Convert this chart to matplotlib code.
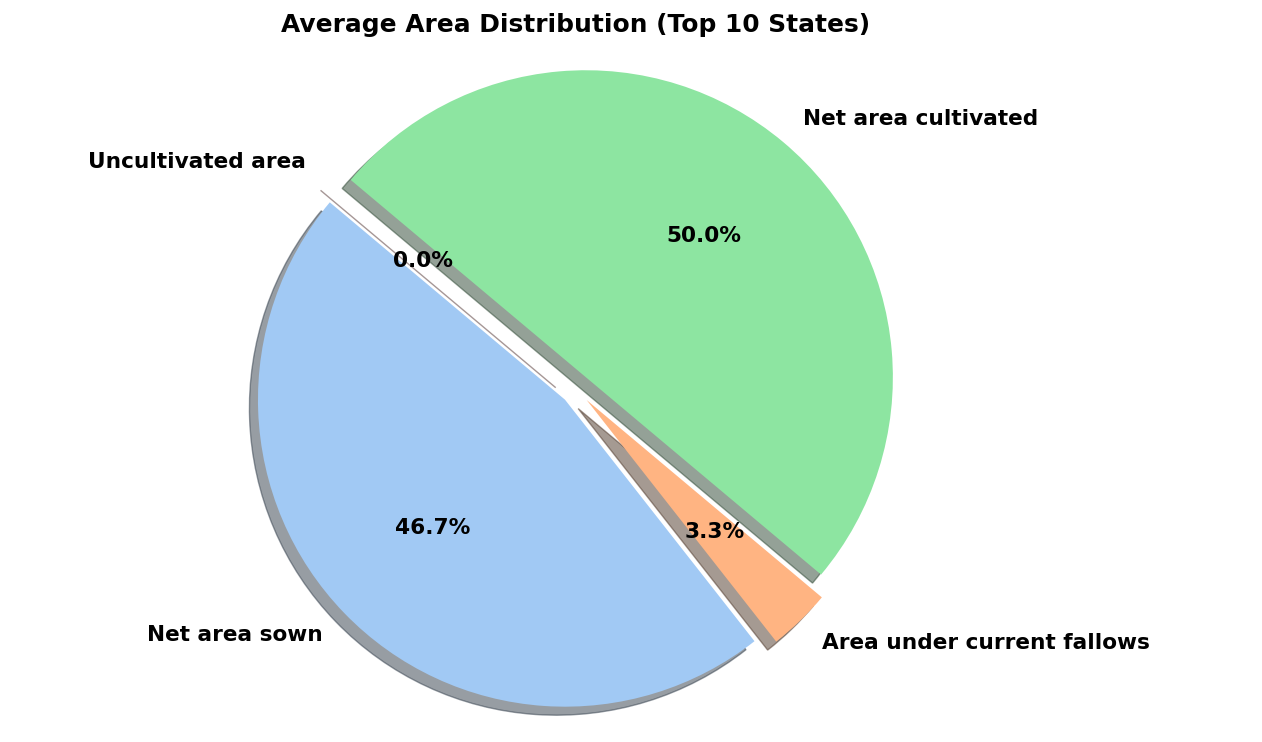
import matplotlib
matplotlib.use("Agg")
import matplotlib.pyplot as plt

labels = ['Net area sown', 'Area under current fallows', 'Net area cultivated', 'Uncultivated area']
values = [46.7, 3.3, 50.0, 0.0]
colors = ['#a1c9f4', '#ffb482', '#8de5a1', '#ff9f9b']
explode = [0.05, 0.05, 0.05, 0.05]
title = 'Average Area Distribution (Top 10 States)'

W, H = 1262, 742
fig = plt.figure(figsize=(W / 100, H / 100), dpi=100)
ax = fig.add_axes([0, 0, 1, 1])
ax.pie(values, labels=labels, colors=colors, explode=explode,
       autopct='%1.1f%%', startangle=140, shadow=True,
       textprops=dict(fontsize=15.6, fontweight='bold'))

s, cx, cy = 307.0, 576.0, 389.0
ax.set_xlim(-cx / s, (W - cx) / s)
ax.set_ylim(-(H - cy) / s, cy / s)
ax.set_aspect('auto')
ax.axis('off')

fig.text(576 / W, 1 - 25 / H, title, ha='center', va='center',
         fontsize=17.9, fontweight='bold')

fig.savefig('out.png', dpi=100)
